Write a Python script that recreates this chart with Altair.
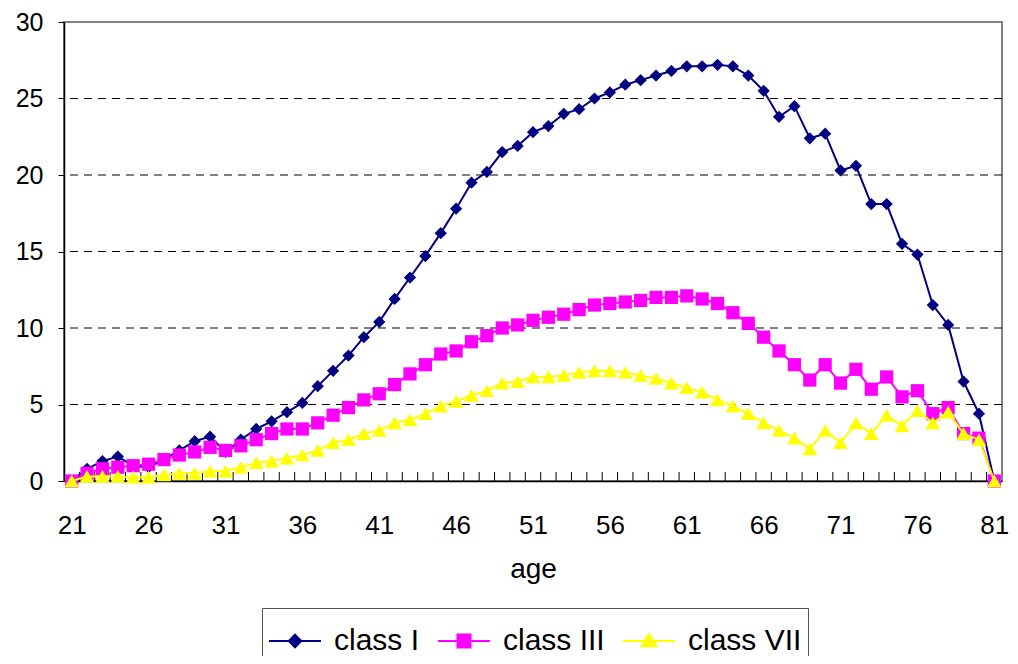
import altair as alt
import pandas as pd

# ---------------- data ----------------
ages = list(range(21, 82))

class_I = [0, 0.8, 1.3, 1.6, 1.0, 0.9, 1.4, 2.0, 2.6, 2.9,
           1.9, 2.7, 3.4, 3.9, 4.5, 5.1, 6.2, 7.2, 8.2, 9.4,
           10.4, 11.9, 13.3, 14.7, 16.2, 17.8, 19.5, 20.2, 21.5, 21.9,
           22.8, 23.2, 24.0, 24.3, 25.0, 25.4, 25.9, 26.2, 26.5, 26.8,
           27.1, 27.1, 27.2, 27.1, 26.5, 25.5, 23.8, 24.5, 22.4, 22.7,
           20.3, 20.6, 18.1, 18.1, 15.5, 14.8, 11.5, 10.2, 6.5, 4.4,
           0]

class_III = [0, 0.5, 0.8, 0.9, 1.0, 1.1, 1.4, 1.7, 1.9, 2.2,
             2.0, 2.3, 2.7, 3.1, 3.4, 3.4, 3.8, 4.3, 4.8, 5.3,
             5.7, 6.3, 7.0, 7.6, 8.3, 8.5, 9.1, 9.5, 10.0, 10.2,
             10.5, 10.7, 10.9, 11.2, 11.5, 11.6, 11.7, 11.8, 12.0, 12.0,
             12.1, 11.9, 11.6, 11.0, 10.3, 9.4, 8.5, 7.6, 6.6, 7.6,
             6.4, 7.3, 6.0, 6.8, 5.5, 5.9, 4.4, 4.8, 3.1, 2.8,
             0]

class_VII = [0, 0.3, 0.3, 0.3, 0.25, 0.25, 0.4, 0.5, 0.5, 0.65,
             0.65, 0.9, 1.2, 1.3, 1.5, 1.7, 2.0, 2.5, 2.7, 3.1,
             3.3, 3.8, 4.0, 4.4, 4.9, 5.2, 5.6, 5.9, 6.4, 6.5,
             6.8, 6.8, 6.9, 7.1, 7.2, 7.2, 7.1, 6.9, 6.7, 6.4,
             6.1, 5.8, 5.3, 4.9, 4.4, 3.8, 3.3, 2.8, 2.1, 3.3,
             2.5, 3.8, 3.1, 4.3, 3.6, 4.6, 3.8, 4.5, 3.1, 2.7,
             0]

series_names = ["class I", "class III", "class VII"]
series_colors = ["#000080", "#FF00FF", "#FFFF00"]
marker_shapes = ["diamond", "square", "triangle-up"]
marker_sizes = [150, 175, 215]
# legend symbols: a horizontal line with the marker on it (unit box -1..1)
legend_paths = [
    "M-1,0H1M0,-0.24L0.24,0L0,0.24L-0.24,0Z",
    "M-1,0H1M-0.25,-0.25H0.25V0.25H-0.25Z",
    "M-1,0H1M0,-0.27L0.29,0.2L-0.29,0.2Z",
]

x_label_values = [21, 26, 31, 36, 41, 46, 51, 56, 61, 66, 71, 76, 81]
y_tick_values = [0, 5, 10, 15, 20, 25, 30]
grid_values = [5, 10, 15, 20, 25]

rows = []
for name, vals in zip(series_names, [class_I, class_III, class_VII]):
    for a, v in zip(ages, vals):
        rows.append({"age": a, "value": v, "series": name})
df = pd.DataFrame(rows)

grid_df = pd.DataFrame({"value": grid_values})
tick_df = pd.DataFrame({"age": [a + 0.5 for a in ages[:-1]]})

W, H = 938, 459
FONT = "Liberation Sans"

xscale = alt.Scale(domain=[20.5, 81.5], nice=False, zero=False)
yscale = alt.Scale(domain=[0, 30], nice=False, zero=True)
color_scale = alt.Scale(domain=series_names, range=series_colors)

x_enc = alt.X("age:Q", scale=xscale,
              axis=alt.Axis(values=x_label_values, title="age", ticks=False, grid=False,
                            labelPadding=31, titlePadding=17, labelFontSize=26,
                            titleFontSize=28, titleFontWeight="normal",
                            domainColor="black", domainWidth=1.5,
                            labelColor="black", titleColor="black",
                            labelFlush=False, labelOverlap=False,
                            labelFont=FONT, titleFont=FONT))
y_enc = alt.Y("value:Q", scale=yscale,
              axis=alt.Axis(values=y_tick_values, title=None, grid=False,
                            tickSize=6, tickColor="black", labelPadding=15,
                            labelFontSize=25, domainColor="black", domainWidth=1.5,
                            labelColor="black", labelFont=FONT))

legend_spec = alt.Legend(orient="none", legendX=198, legendY=586,
                         direction="horizontal", columns=3, title=None,
                         labelFontSize=30, labelFont=FONT, labelColor="black",
                         labelLimit=400, symbolSize=2704, symbolStrokeWidth=2,
                         symbolOpacity=1, labelOffset=12, columnPadding=14,
                         padding=6, strokeColor="#555555", fillColor="white")


def color_enc():
    return alt.Color("series:N", scale=color_scale, legend=legend_spec)


grid = alt.Chart(grid_df).mark_rule(color="black", strokeDash=[8, 6], strokeWidth=1).encode(
    y=y_enc)

minor_ticks = alt.Chart(tick_df).mark_rule(color="black", strokeWidth=1).encode(
    x=x_enc, y=alt.value(H - 9), y2=alt.value(H))

layers = [grid, minor_ticks]
for name, shp, sz in zip(series_names, marker_shapes, marker_sizes):
    base = alt.Chart(df).transform_filter(alt.datum.series == name)
    layers.append(base.mark_line(strokeWidth=2).encode(x=x_enc, y=y_enc, color=color_enc()))
    layers.append(base.mark_point(shape=shp, filled=True, size=sz, opacity=1).encode(
        x=x_enc, y=y_enc, color=color_enc()))

legend_layer = alt.Chart(df).transform_filter("false").mark_point(
    filled=False, strokeWidth=2, opacity=1).encode(
    x=x_enc, y=y_enc,
    color=color_enc(),
    fill=alt.Fill("series:N", scale=color_scale, legend=legend_spec),
    shape=alt.Shape("series:N", scale=alt.Scale(domain=series_names, range=legend_paths),
                    legend=legend_spec),
)
layers.append(legend_layer)

chart = alt.layer(*layers).properties(
    width=W, height=H,
    autosize=alt.AutoSizeParams(type="none"),
    padding={"left": 56, "top": 14, "right": 8, "bottom": 175},
).configure(font=FONT).configure_view(stroke="#808080", strokeWidth=2)

chart.save("out.html", embed_options={"renderer": "svg", "actions": False})
